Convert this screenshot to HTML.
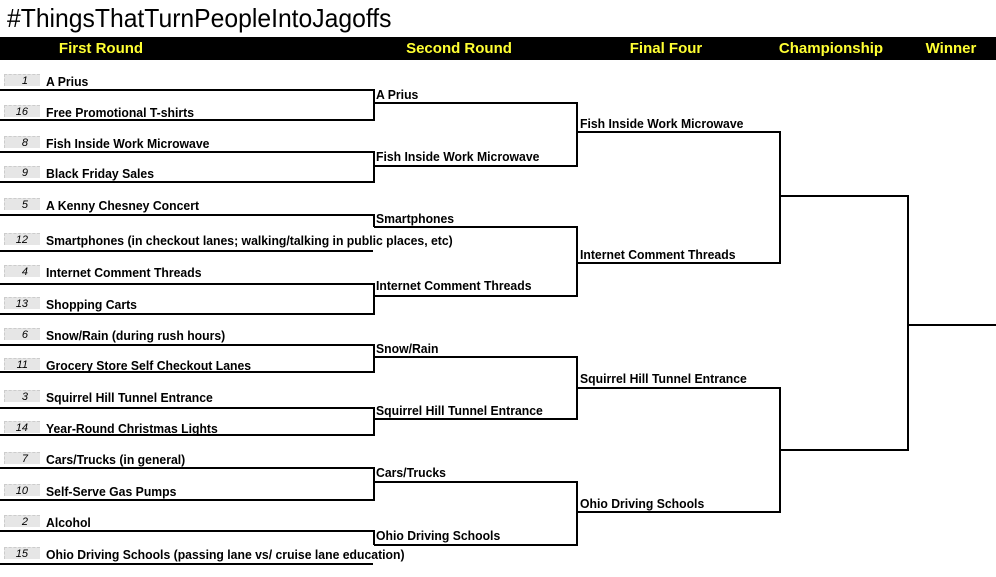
<!DOCTYPE html>
<html><head><meta charset="utf-8"><style>
body{margin:0;background:#fff;width:996px;height:577px;overflow:hidden;position:relative;font-family:"Liberation Sans",Arial,sans-serif}
.t{position:absolute;font-weight:bold;font-size:13px;line-height:14px;white-space:nowrap;transform:scaleX(.94);transform-origin:left center;color:#000}
.s{position:absolute;left:4px;width:36px;height:12px;margin-top:-1px;background:#e6e6e6;border-top:1px dashed #ccc;border-left:1px dashed #ccc;font-style:italic;font-size:11px;line-height:12px;text-align:right;box-sizing:border-box;padding-right:12px;color:#000}
.h{position:absolute;top:37px;height:23px;line-height:23px;color:#ffff33;font-weight:bold;font-size:15px;transform:translateX(-50%);white-space:nowrap}
</style></head><body>
<div style="position:absolute;left:7px;top:3px;font-size:26px;line-height:30px;transform:scaleX(.95);transform-origin:left">#ThingsThatTurnPeopleIntoJagoffs</div>
<div style="position:absolute;left:0;top:37px;width:996px;height:23px;background:#000"></div>
<div class="h" style="left:101px">First Round</div>
<div class="h" style="left:459px">Second Round</div>
<div class="h" style="left:666px">Final Four</div>
<div class="h" style="left:831px">Championship</div>
<div class="h" style="left:951px">Winner</div>
<svg width="996" height="577" style="position:absolute;left:0;top:0" stroke="#000" stroke-width="2" fill="none">
<path d="M0 90H374V120H0"/><path d="M0 152H374V182H0"/>
<path d="M0 215H374V227"/><path d="M0 251H373"/>
<path d="M0 284H374V314H0"/><path d="M0 345H374V372H0"/>
<path d="M0 408H374V435H0"/><path d="M0 468H374V500H0"/>
<path d="M0 531H374V545"/><path d="M0 564H373"/>
<path d="M374 103H577V166H374"/><path d="M374 227H577V296H374"/>
<path d="M374 357H577V419H374"/><path d="M374 482H577V545H374"/>
<path d="M577 132H780V263H577"/><path d="M577 388H780V512H577"/>
<path d="M780 196H908V450H780"/><path d="M908 325H996"/>
</svg>
<div class="s" style="top:75px">1</div><div class="t" style="left:46px;top:75px">A Prius</div>
<div class="s" style="top:106px">16</div><div class="t" style="left:46px;top:106px">Free Promotional T-shirts</div>
<div class="s" style="top:137px">8</div><div class="t" style="left:46px;top:137px">Fish Inside Work Microwave</div>
<div class="s" style="top:167px">9</div><div class="t" style="left:46px;top:167px">Black Friday Sales</div>
<div class="s" style="top:199px">5</div><div class="t" style="left:46px;top:199px">A Kenny Chesney Concert</div>
<div class="s" style="top:234px">12</div><div class="t" style="left:46px;top:234px">Smartphones (in checkout lanes; walking/talking in public places, etc)</div>
<div class="s" style="top:266px">4</div><div class="t" style="left:46px;top:266px">Internet Comment Threads</div>
<div class="s" style="top:298px">13</div><div class="t" style="left:46px;top:298px">Shopping Carts</div>
<div class="s" style="top:329px">6</div><div class="t" style="left:46px;top:329px">Snow/Rain (during rush hours)</div>
<div class="s" style="top:359px">11</div><div class="t" style="left:46px;top:359px">Grocery Store Self Checkout Lanes</div>
<div class="s" style="top:391px">3</div><div class="t" style="left:46px;top:391px">Squirrel Hill Tunnel Entrance</div>
<div class="s" style="top:422px">14</div><div class="t" style="left:46px;top:422px">Year-Round Christmas Lights</div>
<div class="s" style="top:453px">7</div><div class="t" style="left:46px;top:453px">Cars/Trucks (in general)</div>
<div class="s" style="top:485px">10</div><div class="t" style="left:46px;top:485px">Self-Serve Gas Pumps</div>
<div class="s" style="top:516px">2</div><div class="t" style="left:46px;top:516px">Alcohol</div>
<div class="s" style="top:548px">15</div><div class="t" style="left:46px;top:548px">Ohio Driving Schools (passing lane vs/ cruise lane education)</div>
<div class="t" style="left:376px;top:88px">A Prius</div>
<div class="t" style="left:376px;top:150px">Fish Inside Work Microwave</div>
<div class="t" style="left:376px;top:212px">Smartphones</div>
<div class="t" style="left:376px;top:279px">Internet Comment Threads</div>
<div class="t" style="left:376px;top:342px">Snow/Rain</div>
<div class="t" style="left:376px;top:404px">Squirrel Hill Tunnel Entrance</div>
<div class="t" style="left:376px;top:466px">Cars/Trucks</div>
<div class="t" style="left:376px;top:529px">Ohio Driving Schools</div>
<div class="t" style="left:580px;top:117px">Fish Inside Work Microwave</div>
<div class="t" style="left:580px;top:248px">Internet Comment Threads</div>
<div class="t" style="left:580px;top:372px">Squirrel Hill Tunnel Entrance</div>
<div class="t" style="left:580px;top:497px">Ohio Driving Schools</div>
</body></html>
